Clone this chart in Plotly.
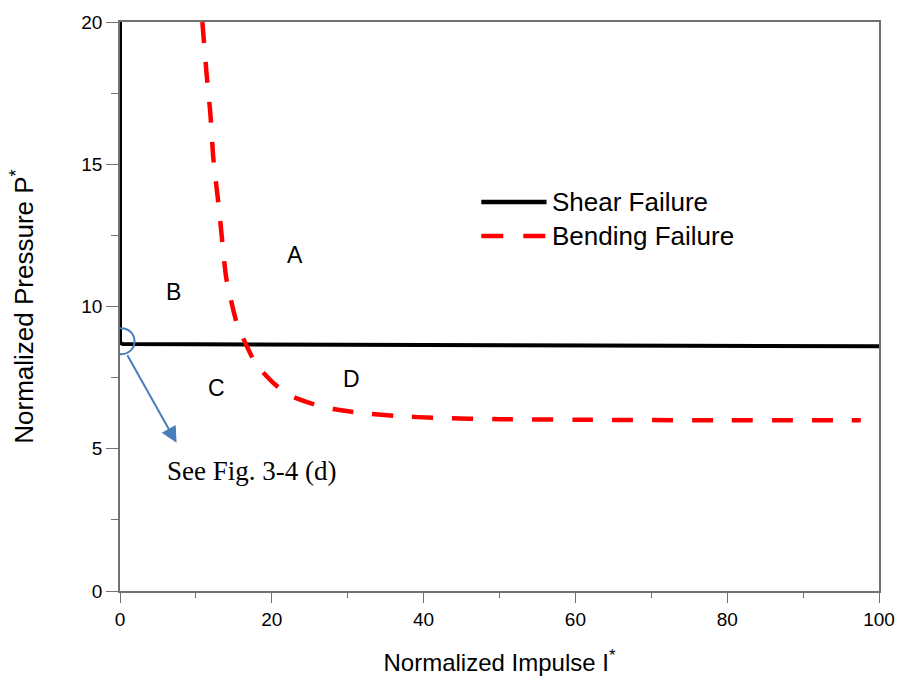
import plotly.graph_objects as go

# Shear failure boundary (normalized impulse vs normalized pressure)
shear_I = [0, 0, 0.4, 27, 51, 100]
shear_P = [20, 8.72, 8.68, 8.66, 8.62, 8.60]

# Bending failure boundary
bend_I = [10.85, 11.4, 11.9, 12.3, 13.1, 14.0, 15.4, 16.6, 17.9, 20.5, 22.6, 25.8,
          28.1, 31.4, 36.6, 41.8, 50.0, 60.0, 80.0, 97.6]
bend_P = [20.0, 18.2, 16.8, 15.2, 13.3, 11.0, 9.4, 8.67, 7.97, 7.24, 6.85, 6.54,
          6.40, 6.27, 6.15, 6.08, 6.04, 6.02, 6.0, 6.0]

# Region labels
region_text = ["A", "B", "C", "D"]
region_I = [23.0, 7.1, 12.7, 30.5]
region_P = [11.8, 10.5, 7.13, 7.45]

x_ticks = [0, 20, 40, 60, 80, 100]
y_ticks = [0, 5, 10, 15, 20]

SANS = "Liberation Sans, Arial"

fig = go.Figure()
fig.add_trace(go.Scatter(x=shear_I, y=shear_P, mode="lines",
                         line=dict(color="black", width=4),
                         showlegend=False))
fig.add_trace(go.Scatter(x=bend_I, y=bend_P, mode="lines",
                         line=dict(color="#ff0000", width=4.5, dash="21px,19px",
                                   shape="spline", smoothing=0.5),
                         showlegend=False))

annotations = []
for t, xi, yi in zip(region_text, region_I, region_P):
    annotations.append(dict(x=xi, y=yi, text=t, showarrow=False,
                            font=dict(family=SANS, size=23, color="black")))

# Pointer from the circled corner to the reference note
annotations.append(dict(x=7.45, y=5.21, ax=-50, ay=-89, axref="pixel", ayref="pixel",
                        text="", showarrow=True, arrowhead=2, arrowsize=1.6,
                        arrowwidth=2, arrowcolor="#4a7ebb"))
annotations.append(dict(x=5.9, y=4.23, text="See Fig. 3-4 (d)", showarrow=False,
                        xanchor="left", yanchor="middle",
                        font=dict(family="Liberation Serif, Times New Roman", size=27,
                                  color="black")))

# Legend drawn as line samples with labels
leg_items = [("Shear Failure", "black", "solid", 0.6836),
             ("Bending Failure", "#ff0000", "22px,20px", 0.624)]
shapes = [dict(type="circle", xref="x", yref="y", xsizemode="pixel", ysizemode="pixel",
               xanchor=0.2, yanchor=8.78, x0=-13, x1=13, y0=-13, y1=13,
               line=dict(color="#4a7ebb", width=2))]
for label, col, dash, yp in leg_items:
    shapes.append(dict(type="line", xref="paper", yref="paper", x0=0.476, x1=0.562,
                       y0=yp, y1=yp, line=dict(color=col, width=4.5, dash=dash)))
    annotations.append(dict(x=0.567, y=yp, xref="paper", yref="paper", text=label,
                            showarrow=False, xanchor="left", yanchor="middle",
                            font=dict(family=SANS, size=26, color="black")))

axis_common = dict(showline=True, mirror=True, linecolor="#707070", linewidth=1.5,
                   showgrid=False, zeroline=False, ticks="outside", tickcolor="#707070",
                   tickfont=dict(family=SANS, size=19, color="black"))

fig.update_layout(
    width=907, height=685,
    margin=dict(l=120, r=22, t=19, b=94),
    paper_bgcolor="white", plot_bgcolor="white",
    shapes=shapes, annotations=annotations,
    xaxis=dict(range=[0, 100], tickvals=x_ticks, ticklen=10,
               minor=dict(dtick=10, ticklen=5, ticks="outside", tickcolor="#707070"),
               title=dict(text="Normalized Impulse I<sup>*</sup>", standoff=26,
                          font=dict(family=SANS, size=24, color="black")),
               **axis_common),
    yaxis=dict(range=[0, 20], tickvals=y_ticks, ticklen=12,
               minor=dict(dtick=2.5, ticklen=7, ticks="outside", tickcolor="#707070"),
               title=dict(text="Normalized Pressure P<sup>*</sup>", standoff=40,
                          font=dict(family=SANS, size=26, color="black")),
               **axis_common),
)

fig.write_html("out.html")
